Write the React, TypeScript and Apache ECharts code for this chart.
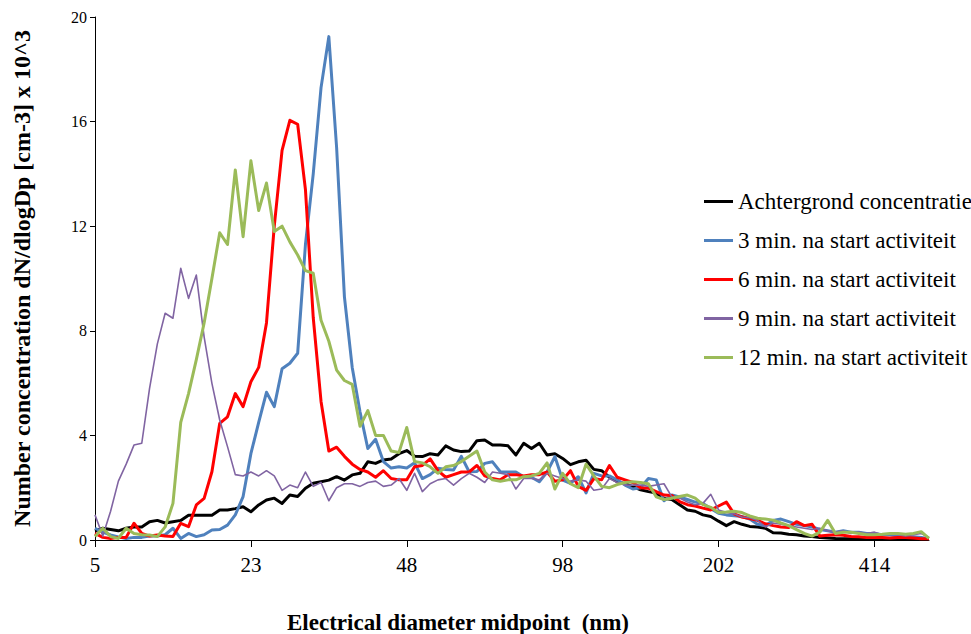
import React, { useEffect, useRef } from "react";
import * as echarts from "echarts";

const categories: number[] = [
  5, 5.4, 5.8, 6.3, 6.8, 7.3, 7.9, 8.5, 9.2, 9.9, 10.7, 11.6, 12.5, 13.5, 14.5, 15.7, 16.9, 18.3, 19.7, 21.3, 23,
  23.9, 24.8, 25.7, 26.7, 27.7, 28.7, 29.8, 30.9, 32.1, 33.3, 34.5, 35.8, 37.2, 38.6, 40.0, 41.5, 43.1, 44.7, 46.3, 48,
  49.7, 51.5, 53.4, 55.3, 57.3, 59.4, 61.6, 63.8, 66.1, 68.5, 71.0, 73.6, 76.3, 79.0, 81.9, 84.9, 87.9, 91.1, 94.4, 98,
  101.6, 105.3, 109.2, 113.2, 117.4, 121.7, 126.2, 130.8, 135.6, 140.6, 145.8, 151.2, 156.7, 162.5, 168.5, 174.7, 181.1, 187.8, 194.7, 202,
  209.4, 217.0, 224.9, 233.1, 241.6, 250.4, 259.6, 269.0, 278.9, 289.0, 299.6, 310.5, 321.8, 333.6, 345.7, 358.3, 371.4, 385.0, 399.0, 414,
  429.1, 444.8, 461.0, 477.8, 495.3, 513.3, 532.1,
];

const seriesNames: string[] = [
  "Achtergrond concentratie",
  "3 min. na start activiteit",
  "6 min. na start activiteit",
  "9 min. na start activiteit",
  "12 min. na start activiteit",
];

const background: number[] = [
  0.35, 0.45, 0.4, 0.35, 0.45, 0.5, 0.5, 0.7, 0.75, 0.65,
  0.7, 0.75, 0.95, 0.95, 0.95, 0.95, 1.15, 1.15, 1.2, 1.27,
  1.08, 1.34, 1.53, 1.6, 1.4, 1.72, 1.66, 1.98, 2.17, 2.23,
  2.29, 2.42, 2.29, 2.49, 2.55, 2.99, 2.93, 3.06, 3.1, 3.3,
  3.42, 3.2, 3.19, 3.3, 3.25, 3.6, 3.44, 3.38, 3.4, 3.8,
  3.82, 3.63, 3.63, 3.6, 3.25, 3.7, 3.5, 3.7, 3.25, 3.3,
  3.12, 2.88, 2.99, 3.05, 2.7, 2.65, 2.4, 2.23, 2.15, 2.04,
  1.92, 1.85, 1.8, 1.6, 1.55, 1.35, 1.15, 1.1, 0.96, 0.9,
  0.72, 0.55, 0.7, 0.6, 0.52, 0.5, 0.45, 0.28, 0.27, 0.22,
  0.2, 0.15, 0.13, 0.1, 0.08, 0.06, 0.05, 0.05, 0.04, 0.04,
  0.03, 0.03, 0.03, 0.03, 0.02, 0.02, 0.02, 0.02,
];

const min3: number[] = [
  0.45, 0.3, 0.19, 0.12, 0.06, 0.1, 0.1, 0.15, 0.15, 0.2,
  0.45, 0.06, 0.25, 0.13, 0.2, 0.38, 0.4, 0.57, 0.96, 1.66,
  3.3, 4.5, 5.65, 5.1, 6.55, 6.76, 7.14, 11.3, 14.0, 17.3,
  19.25, 15.0, 9.3, 6.6, 4.9, 3.5, 3.85, 3.0, 2.75, 2.8,
  2.75, 2.95, 2.35, 2.5, 2.74, 2.7, 2.68, 3.2, 2.61, 2.62,
  2.93, 2.99, 2.61, 2.6, 2.6, 2.42, 2.4, 2.23, 2.6, 3.19,
  2.29, 2.17, 2.42, 1.8, 2.55, 2.45, 2.45, 2.3, 2.1, 1.95,
  2.0, 2.35, 2.3, 1.5, 1.72, 1.65, 1.55, 1.45, 1.4, 1.2,
  1.02, 0.96, 0.93, 0.9, 0.8, 0.6, 0.55, 0.75, 0.8, 0.7,
  0.6, 0.55, 0.5, 0.4, 0.35, 0.3, 0.35, 0.3, 0.3, 0.25,
  0.25, 0.2, 0.2, 0.15, 0.1, 0.12, 0.1, 0.05,
];

const min6: number[] = [
  0.25, 0.1, 0.06, 0.1, 0.1, 0.64, 0.25, 0.15, 0.19, 0.15,
  0.13, 0.64, 0.51, 1.34, 1.59, 2.61, 4.46, 4.71, 5.6, 5.1,
  6.05, 6.6, 8.3, 12.0, 14.9, 16.05, 15.9, 13.4, 8.5, 5.3,
  3.4, 3.55, 3.2, 2.9, 2.7, 2.6, 2.4, 2.65, 2.35, 2.3,
  2.3, 2.8, 2.85, 3.1, 2.65, 2.4, 2.5, 2.6, 2.6, 2.85,
  2.45, 2.35, 2.3, 2.5, 2.5, 2.45, 2.5, 2.5, 2.6, 2.25,
  2.3, 2.65, 2.05, 1.9, 2.35, 2.3, 2.85, 2.4, 2.3, 2.2,
  2.0, 1.98, 1.85, 1.72, 1.7, 1.47, 1.35, 1.3, 1.22, 1.15,
  1.3, 1.45, 1.0, 0.88, 0.82, 0.75, 0.62, 0.55, 0.5, 0.48,
  0.7, 0.55, 0.6, 0.15, 0.18, 0.2, 0.18, 0.13, 0.12, 0.1,
  0.1, 0.1, 0.08, 0.1, 0.1, 0.08, 0.05, 0.05,
];

const min9: number[] = [
  0.96, 0.15, 1.1, 2.25, 2.9, 3.63, 3.7, 5.8, 7.5, 8.67,
  8.48, 10.39, 9.24, 10.13, 7.77, 5.99, 4.59, 3.57, 2.5, 2.45,
  2.6, 2.45, 2.65, 2.45, 1.9, 2.1, 2.0, 2.6, 2.05, 2.2,
  1.5, 2.0, 2.15, 2.15, 2.05, 2.2, 2.25, 2.05, 2.1, 2.35,
  1.9, 2.55, 1.85, 2.15, 2.3, 2.35, 2.1, 2.35, 2.55, 2.4,
  2.2, 2.6, 2.55, 2.5, 1.95, 2.35, 2.35, 2.3, 2.55, 2.45,
  2.35, 2.25, 2.3, 2.25, 1.9, 1.95, 2.35, 2.2, 2.1, 2.1,
  2.1, 2.05, 2.1, 2.15, 1.65, 1.6, 1.45, 1.35, 1.4, 1.75,
  1.15, 1.05, 1.0, 0.88, 0.85, 0.75, 0.5, 0.65, 0.6, 0.55,
  0.5, 0.45, 0.4, 0.45, 0.35, 0.3, 0.35, 0.25, 0.3, 0.25,
  0.3, 0.2, 0.25, 0.2, 0.15, 0.2, 0.25, 0.1,
];

const min12: number[] = [
  0.13, 0.45, 0.13, 0.06, 0.45, 0.25, 0.2, 0.19, 0.13, 0.5,
  1.4, 4.5, 5.6, 6.9, 8.3, 10.0, 11.75, 11.3, 14.15, 11.6,
  14.5, 12.6, 13.65, 11.8, 12.0, 11.4, 10.9, 10.3, 10.2, 8.4,
  7.6, 6.5, 6.1, 5.95, 4.35, 4.95, 4.0, 4.0, 3.4, 3.35,
  4.3, 3.0, 2.95, 2.8, 2.55, 2.8, 2.85, 3.0, 3.2, 3.4,
  2.6, 2.3, 2.25, 2.3, 2.3, 2.42, 2.45, 2.55, 2.95, 1.95,
  2.55, 2.15, 2.0, 2.9, 2.45, 2.05, 2.0, 2.12, 2.2, 2.23,
  2.2, 2.15, 1.65, 1.55, 1.6, 1.66, 1.72, 1.6, 1.35, 1.25,
  1.05, 1.07, 1.1, 1.05, 0.92, 0.83, 0.8, 0.76, 0.65, 0.55,
  0.4, 0.25, 0.15, 0.3, 0.75, 0.25, 0.3, 0.3, 0.25, 0.2,
  0.2, 0.22, 0.25, 0.25, 0.22, 0.25, 0.32, 0.06,
];

const seriesData: number[][] = [background, min3, min6, min9, min12];
const seriesColors: string[] = ["#000000", "#4F81BD", "#FF0000", "#8064A2", "#9BBB59"];
const seriesWidths: number[] = [3, 3, 3, 1.6, 3];

const yTitle = "Number concentration dN/dlogDp [cm-3] x 10^3";
const xTitle = "Electrical diameter midpoint  (nm)";

const FONT = "Liberation Serif, Times New Roman, serif";

export default function App() {
  const ref = useRef<HTMLDivElement>(null);

  useEffect(() => {
    document.body.style.margin = "0";
    if (!ref.current) return;
    const chart = echarts.init(ref.current, undefined, { renderer: "svg" });
    chart.setOption({
      animation: false,
      backgroundColor: "#ffffff",
      textStyle: { fontFamily: FONT },
      grid: { left: 95, right: 42, top: 17, bottom: 94, containLabel: false },
      legend: {
        orient: "vertical",
        left: 699,
        top: 185,
        itemWidth: 29,
        itemHeight: 3,
        itemGap: 16,
        icon: "rect",
        data: seriesNames,
        textStyle: { fontFamily: FONT, fontSize: 23, color: "#000", lineHeight: 23 },
      },
      graphic: [
        {
          type: "text",
          x: 458,
          y: 622,
          style: {
            text: xTitle,
            font: `bold 23px ${FONT}`,
            fill: "#000",
            align: "center",
            verticalAlign: "middle",
            textAlign: "center",
            textVerticalAlign: "middle",
          },
        },
      ],
      xAxis: {
        type: "category",
        data: categories,
        boundaryGap: false,
        axisLine: { lineStyle: { color: "#000", width: 1 } },
        axisTick: { interval: 19, length: 7, lineStyle: { color: "#000" } },
        axisLabel: {
          interval: 19,
          margin: 14,
          fontSize: 21,
          fontFamily: FONT,
          color: "#000",
          formatter: (v: string) => String(v),
        },
        splitLine: { show: false },
      },
      yAxis: {
        type: "value",
        min: 0,
        max: 20,
        interval: 4,
        axisLine: { show: true, lineStyle: { color: "#000", width: 1 } },
        axisTick: { show: true, length: 5, lineStyle: { color: "#000" } },
        axisLabel: { fontSize: 16, fontFamily: FONT, color: "#000", margin: 8 },
        splitLine: { show: false },
        name: yTitle,
        nameLocation: "middle",
        nameGap: 61,
        nameTextStyle: { fontSize: 24, fontWeight: "bold", fontFamily: FONT, color: "#000" },
      },
      series: seriesNames.map((name, i) => ({
        name,
        type: "line",
        data: seriesData[i],
        showSymbol: false,
        symbol: "none",
        color: seriesColors[i],
        itemStyle: { color: seriesColors[i] },
        lineStyle: { color: seriesColors[i], width: seriesWidths[i], join: "round" },
        z: 2 + i,
      })),
    });
    return () => chart.dispose();
  }, []);

  return <div ref={ref} style={{ width: 971, height: 634 }} />;
}
